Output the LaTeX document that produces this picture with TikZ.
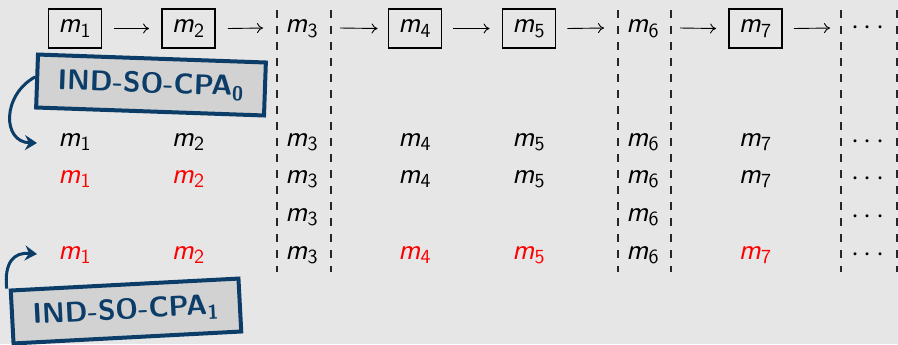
\documentclass[tikz,border=0pt]{standalone}
\usetikzlibrary{arrows.meta}
\definecolor{bgcol}{RGB}{230,230,230}
\definecolor{navy}{RGB}{12,61,104}
\definecolor{lblfill}{RGB}{210,210,210}
\newcommand\mm[1]{\textit{m}$_{\mathsf{#1}}$}
\tikzset{
  mbox/.style={draw=black, line width=0.9pt, minimum width=26.5pt, minimum height=19.5pt, inner sep=0pt},
  mtxt/.style={inner sep=0pt},
  red/.style={text=red},
  flow/.style={-{Computer Modern Rightarrow[length=3pt,width=5pt]}, line width=0.45pt},
  dline/.style={black!85, line width=0.6pt, dash pattern=on 3.8pt off 4.2pt},
  lbl/.style={draw=navy, fill=lblfill, line width=2pt, text=navy, minimum width=114pt, minimum height=26.5pt, inner sep=0pt, font=\sffamily\bfseries\fontsize{14.3}{16}\selectfont},
  carrow/.style={draw=navy, line width=1.5pt, -{Stealth[length=6pt,width=7.5pt,inset=2pt]}}
}
\begin{document}
\begin{tikzpicture}[x=0.5pt,y=-0.5pt, font=\sffamily\fontsize{14.2}{16}\selectfont]
\fill[bgcol] (0,0) rectangle (898,344);
\useasboundingbox (0,0) rectangle (898,344);
% dashed separators
\foreach \x in {277,331,618,671,841,897}
  \draw[dline] (\x,10) -- (\x,272);
% top row
\node[mbox] (t1) at (75,28.5) {\mm1};
\node[mbox] (t2) at (188.5,28.5) {\mm2};
\node[mtxt] (t3) at (302,28.5) {\mm3};
\node[mbox] (t4) at (415,28.5) {\mm4};
\node[mbox] (t5) at (529,28.5) {\mm5};
\node[mtxt] (t6) at (643,28.5) {\mm6};
\node[mbox] (t7) at (755.5,28.5) {\mm7};
\node[mtxt] (t8) at (868,28.5) {$\cdots$};
\coordinate (e2) at (263,28);
\coordinate (s3) at (340,28);
\coordinate (e5) at (604,28);
\coordinate (s6) at (680,28);
\coordinate (e7) at (830,28);
\draw[flow] ([xshift=6pt]t1.east) -- ([xshift=-6pt]t2.west);
\draw[flow] ([xshift=6pt]t2.east) -- (e2);
\draw[flow] (s3) -- ([xshift=-5pt]t4.west);
\draw[flow] ([xshift=5.5pt]t4.east) -- ([xshift=-6pt]t5.west);
\draw[flow] ([xshift=5.5pt]t5.east) -- (e5);
\draw[flow] (s6) -- ([xshift=-6pt]t7.west);
\draw[flow] ([xshift=5.5pt]t7.east) -- (e7);
% row 1
\node[mtxt] (a1) at (75,142) {\mm1};
\node[mtxt] (a2) at (188.5,142) {\mm2};
\node[mtxt] (a3) at (302,142) {\mm3};
\node[mtxt] (a4) at (415,142) {\mm4};
\node[mtxt] (a5) at (529,142) {\mm5};
\node[mtxt] (a6) at (643,142) {\mm6};
\node[mtxt] (a7) at (755.5,142) {\mm7};
\node[mtxt] (a8) at (868,142) {$\cdots$};
% row 2
\node[mtxt,red] (b1) at (75,179) {\mm1};
\node[mtxt,red] (b2) at (188.5,179) {\mm2};
\node[mtxt] (b3) at (302,179) {\mm3};
\node[mtxt] (b4) at (415,179) {\mm4};
\node[mtxt] (b5) at (529,179) {\mm5};
\node[mtxt] (b6) at (643,179) {\mm6};
\node[mtxt] (b7) at (755.5,179) {\mm7};
\node[mtxt] (b8) at (868,179) {$\cdots$};
% row 3
\node[mtxt] (c3) at (302,217) {\mm3};
\node[mtxt] (c6) at (643,217) {\mm6};
\node[mtxt] (c8) at (868,217) {$\cdots$};
% row 4
\node[mtxt,red] (d1) at (75,255) {\mm1};
\node[mtxt,red] (d2) at (188.5,255) {\mm2};
\node[mtxt] (d3) at (302,255) {\mm3};
\node[mtxt,red] (d4) at (415,255) {\mm4};
\node[mtxt,red] (d5) at (529,255) {\mm5};
\node[mtxt] (d6) at (643,255) {\mm6};
\node[mtxt,red] (d7) at (755.5,255) {\mm7};
\node[mtxt] (d8) at (868,255) {$\cdots$};
% labels
\node[lbl, rotate=-2] (L0) at (151,85) {IND-SO-CPA\textsubscript{0}};
\node[lbl, rotate=3] (L1) at (126,311) {IND-SO-CPA\textsubscript{1}};
\coordinate (p0) at (37,143);
\coordinate (p1) at (37,254);
\draw[carrow] ([yshift=2pt]L0.west) .. controls (2,95) and (2,142) .. (p0);
\draw[carrow] ([xshift=-1pt]L1.north west) .. controls (4,262) and (14,252) .. (p1);
\end{tikzpicture}
\end{document}
